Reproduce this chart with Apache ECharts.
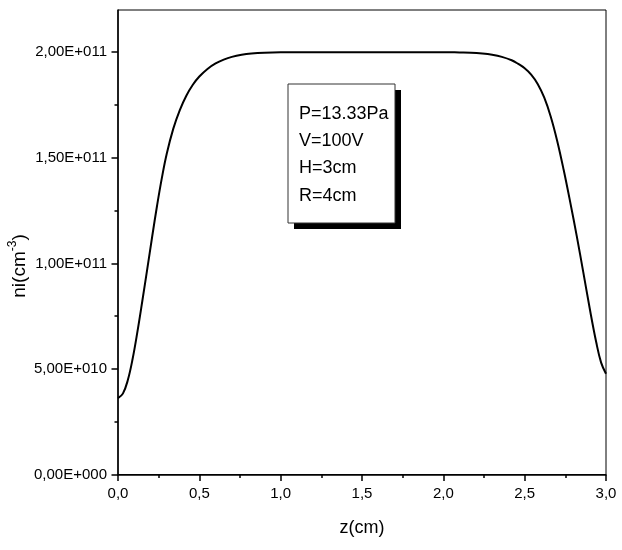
<!DOCTYPE html>
<html>
<head>
<meta charset="utf-8">
<script src="https://cdn.jsdelivr.net/npm/echarts@6/dist/echarts.min.js"></script>
<style>
  html, body { margin: 0; padding: 0; background: #fff; }
  #chart { width: 622px; height: 550px; }
</style>
</head>
<body>
<div id="chart"></div>
<script>
// Ion density profile along the discharge axis
const zValues = [
  0.00, 0.03, 0.06, 0.09, 0.12, 0.15, 0.18, 0.21, 0.24, 0.27, 0.30, 0.34, 0.38, 0.42,
  0.46, 0.50, 0.55, 0.60, 0.65, 0.70, 0.76, 0.82, 0.90, 1.00, 1.25, 1.50, 1.75, 2.00,
  2.10, 2.17, 2.24, 2.30, 2.36, 2.42, 2.46, 2.50, 2.54, 2.58, 2.62, 2.66, 2.70, 2.74,
  2.78, 2.82, 2.86, 2.90, 2.94, 2.97, 3.00
];
const niValues = [
  3.62e10, 3.83e10, 4.46e10, 5.48e10, 6.79e10, 8.24e10, 9.74e10, 1.126e11, 1.273e11, 1.406e11,
  1.520e11, 1.638e11, 1.726e11, 1.794e11, 1.846e11, 1.885e11, 1.921e11, 1.947e11, 1.965e11, 1.978e11,
  1.988e11, 1.994e11, 1.998e11, 2.000e11, 2.000e11, 2.000e11, 2.000e11, 2.000e11,
  1.999e11, 1.998e11, 1.994e11, 1.988e11, 1.978e11, 1.962e11, 1.945e11, 1.924e11, 1.894e11, 1.850e11,
  1.786e11, 1.696e11, 1.580e11, 1.442e11, 1.290e11, 1.130e11, 9.60e10, 7.86e10, 6.26e10, 5.30e10,
  4.77e10
];

const xTickValues = [0, 0.5, 1.0, 1.5, 2.0, 2.5, 3.0];
const xTickLabels = ['0,0', '0,5', '1,0', '1,5', '2,0', '2,5', '3,0'];
const yTickValues = [0, 5e10, 1e11, 1.5e11, 2e11];
const yTickLabels = ['0,00E+000', '5,00E+010', '1,00E+011', '1,50E+011', '2,00E+011'];
const yMinorValues = [2.5e10, 7.5e10, 1.25e11, 1.75e11];

const paramLines = ['P=13.33Pa', 'V=100V', 'H=3cm', 'R=4cm'];

const FONT = 'Liberation Sans';
const labelText = { color: '#000', fontSize: 15, fontFamily: FONT };

const chart = echarts.init(document.getElementById('chart'), null, { renderer: 'canvas' });

const seriesData = zValues.map((z, i) => [z, niValues[i]]);

chart.setOption({
  backgroundColor: '#fff',
  animation: false,
  textStyle: { fontFamily: FONT, fontSize: 15, color: '#000' },
  grid: {
    left: 118, top: 10, right: 16, bottom: 75.5,
    show: true, borderColor: '#000', borderWidth: 1, backgroundColor: 'transparent'
  },
  xAxis: {
    type: 'value',
    min: 0, max: 3, interval: 0.5,
    name: 'z(cm)',
    nameLocation: 'middle',
    nameGap: 45,
    nameTextStyle: { color: '#000', fontSize: 18, fontFamily: FONT },
    axisLine: { show: true, lineStyle: { color: '#000', width: 1.5 } },
    axisTick: { show: true, inside: false, length: 6.5, lineStyle: { color: '#000', width: 1.5 } },
    minorTick: { show: true, splitNumber: 2, length: 3.5, lineStyle: { color: '#000', width: 1.5 } },
    splitLine: { show: false },
    axisLabel: Object.assign({}, labelText, {
      margin: 12,
      formatter: v => {
        const i = xTickValues.findIndex(t => Math.abs(t - v) < 1e-9);
        return i >= 0 ? xTickLabels[i] : '';
      }
    })
  },
  yAxis: [
    {
      type: 'value',
      min: 0, max: 2.2e11,
      position: 'left',
      axisLine: { show: true, onZero: false, lineStyle: { color: '#000', width: 1.5 } },
      axisTick: { show: true, inside: false, length: 6.5, customValues: yTickValues,
                  lineStyle: { color: '#000', width: 1.5 } },
      splitLine: { show: false },
      axisLabel: Object.assign({}, labelText, {
        margin: 11,
        customValues: yTickValues,
        formatter: v => {
          const i = yTickValues.findIndex(t => Math.abs(t - v) < 1);
          return i >= 0 ? yTickLabels[i] : '';
        }
      })
    },
    {
      // minor ticks between the labelled ones
      type: 'value',
      min: 0, max: 2.2e11,
      position: 'left',
      axisLine: { show: false },
      axisTick: { show: true, inside: false, length: 3.5, customValues: yMinorValues,
                  lineStyle: { color: '#000', width: 1.5 } },
      axisLabel: { show: false },
      splitLine: { show: false }
    }
  ],
  series: [{
    type: 'line',
    data: seriesData,
    xAxisIndex: 0,
    yAxisIndex: 0,
    showSymbol: false,
    smooth: 0.4,
    lineStyle: { color: '#000', width: 2 },
    z: 3
  }],
  graphic: [
    {
      type: 'text',
      x: 18, y: 266,
      rotation: Math.PI / 2,
      style: {
        text: '{a|ni(cm}{s|-3}{a|)}',
        align: 'center',
        verticalAlign: 'middle',
        fill: '#000',
        rich: {
          a: { fontSize: 19, fontFamily: FONT, fill: '#000', lineHeight: 23, verticalAlign: 'bottom' },
          s: { fontSize: 12, fontFamily: FONT, fill: '#000', lineHeight: 23, verticalAlign: 'top' }
        }
      }
    },
    {
      type: 'group',
      x: 288, y: 84,
      children: [
        { type: 'rect', shape: { x: 6, y: 6, width: 107, height: 139 }, style: { fill: '#000' } },
        { type: 'rect', shape: { x: 0, y: 0, width: 107, height: 139 },
          style: { fill: '#fff', stroke: '#333', lineWidth: 1 } },
        {
          type: 'text', x: 11, y: 16,
          style: {
            text: paramLines.join('\n'),
            fontSize: 18, fontFamily: FONT, fill: '#000',
            lineHeight: 27.3, align: 'left', verticalAlign: 'top'
          }
        }
      ]
    }
  ]
});
</script>
</body>
</html>
